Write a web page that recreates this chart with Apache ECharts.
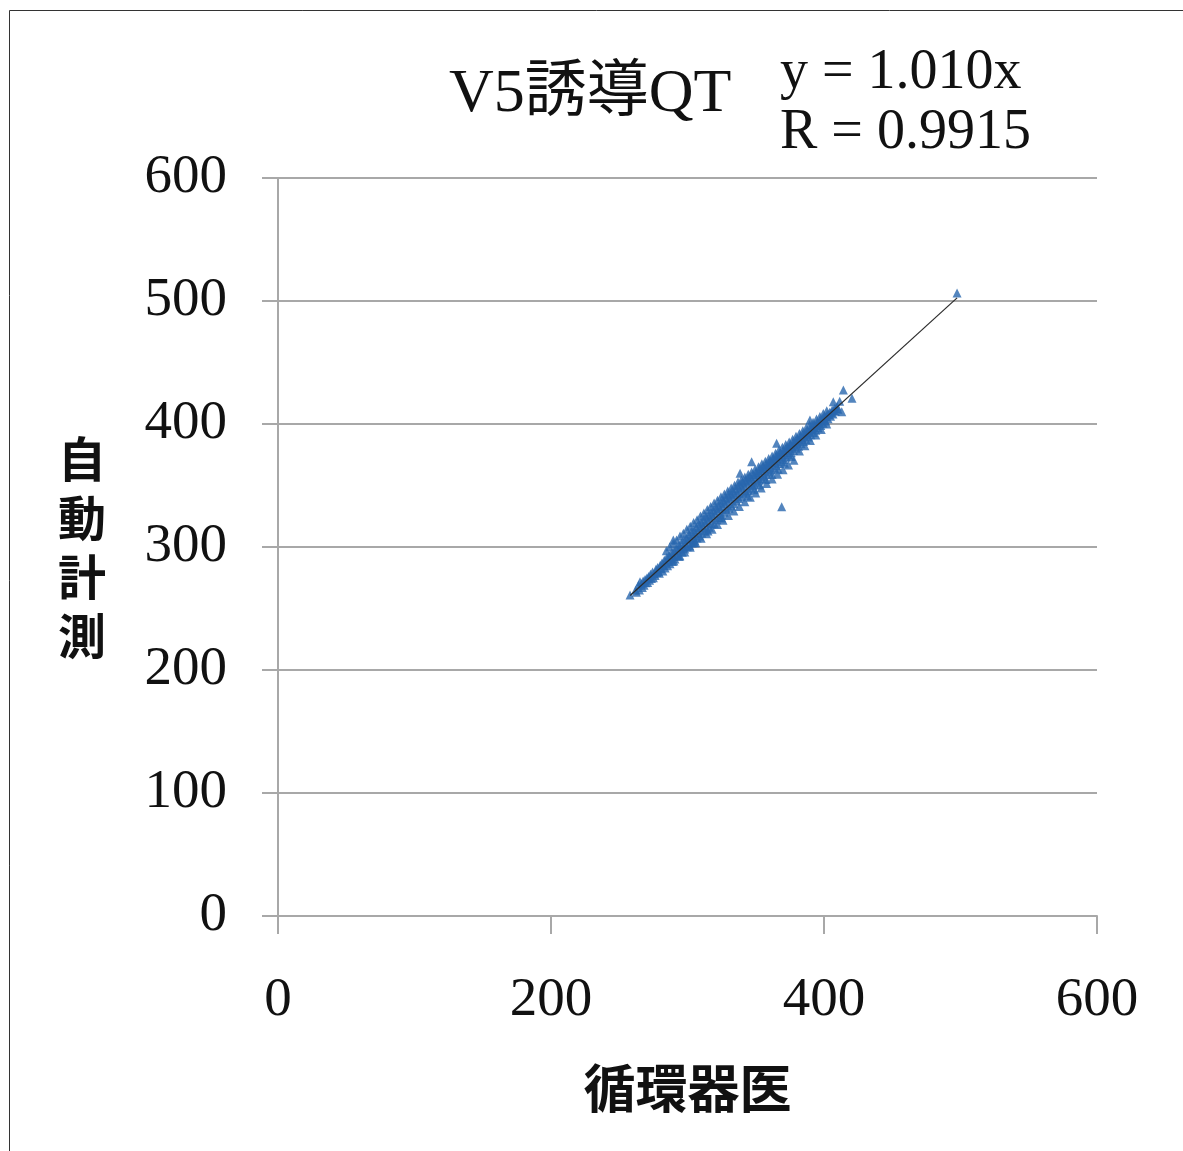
<!DOCTYPE html>
<html>
<head>
<meta charset="utf-8">
<script src="https://cdn.jsdelivr.net/npm/echarts@6/dist/echarts.min.js"></script>
<style>
  html, body { margin: 0; padding: 0; background: #ffffff; }
  #chart { width: 1183px; height: 1151px; }
</style>
</head>
<body>
<div id="chart"></div>
<script>
// QT interval in lead V5: cardiologist reading (x) vs automatic measurement (y), ms
const xTicks = [0, 200, 400, 600];
const yTicks = [0, 100, 200, 300, 400, 500, 600];

const titleText = 'V5誘導QT';
const equationLines = ['y = 1.010x', 'R = 0.9915'];
const xName = '循環器医';
const yName = '自動計測';

// main cluster of paired readings
const bandPoints = [
  [262.0,265.0],[262.6,263.2],[264.1,268.9],[264.8,265.0],[266.3,270.2],[266.9,267.1],[267.5,272.4],
  [268.2,269.0],[268.9,273.5],[269.4,271.0],[270.3,274.8],[270.8,271.2],[271.5,276.0],
  [272.2,273.0],[272.9,277.9],[273.6,274.4],[274.4,279.6],[275.0,275.1],[275.7,278.2],
  [276.3,276.9],[276.9,282.0],[277.6,279.3],[278.1,283.4],[278.7,280.0],[279.4,278.6],[280.0,285.1],[280.6,282.3],
  [281.3,287.0],[281.9,280.4],[282.5,284.9],[283.0,289.2],[283.6,282.9],[284.2,287.6],[284.8,291.4],[285.4,284.8],
  [286.0,289.7],[286.6,293.5],[287.2,286.4],[287.8,291.0],[288.4,295.6],[289.0,288.3],[289.6,292.4],[290.2,297.0],
  [290.8,290.2],[291.4,294.8],[292.0,299.2],[292.6,293.1],[293.2,297.5],[293.8,301.8],[294.4,292.8],[295.0,299.0],
  [295.6,303.5],[296.2,295.7],[296.8,300.4],[297.4,306.0],[298.0,298.3],[298.6,302.7],[299.2,307.3],[299.8,300.2],
  [300.4,305.8],[301.0,310.4],[301.6,301.0],[302.2,307.1],[302.8,312.6],[303.4,303.3],[304.0,309.4],[304.6,314.0],
  [305.0,303.5],[305.2,305.5],[305.8,311.2],[306.4,316.1],[307.0,307.4],[307.6,313.7],[308.2,318.9],[308.8,309.0],[309.4,315.8],
  [310.0,320.4],[310.6,311.2],[311.2,317.3],[311.8,322.6],[312.4,313.0],[313.0,319.8],[313.6,324.9],[314.2,314.6],
  [314.8,321.3],[315.0,313.0],[315.4,326.0],[316.0,316.1],[316.6,323.5],[317.2,328.4],[317.8,318.7],[318.4,325.2],[319.0,330.1],
  [319.6,319.0],[320.2,327.0],[320.8,332.3],[321.4,322.2],[322.0,329.5],[322.6,334.0],[323.2,324.0],[323.8,331.2],
  [324.4,336.4],[325.0,326.1],[325.0,323.6],[325.6,333.0],[326.2,338.2],[326.8,328.2],[327.4,335.4],[328.0,340.1],[328.6,330.5],
  [329.2,337.1],[329.8,342.3],[330.4,331.6],[331.0,339.0],[331.6,343.7],[332.2,333.4],[332.8,340.6],[333.4,345.8],
  [334.0,335.2],[334.6,342.5],[335.2,347.4],[335.8,337.5],[336.4,344.0],[337.0,349.6],[337.6,339.4],[338.2,346.1],
  [338.8,351.0],[339.4,340.7],[340.0,347.9],[340.6,352.8],[341.2,343.3],[341.8,349.5],[342.4,354.2],[343.0,344.6],
  [343.6,351.8],[344.0,341.5],[344.2,356.0],[344.8,346.0],[345.4,353.4],[346.0,357.3],[346.6,347.7],[347.2,355.0],[347.8,350.1],
  [348.4,359.0],[349.0,351.0],[349.0,346.5],[349.6,356.8],[350.2,360.4],[350.8,352.7],[351.4,358.5],[352.0,362.0],[352.6,354.3],
  [353.0,350.4],[353.2,360.2],[353.8,363.8],[354.4,355.6],[355.0,361.9],[355.6,365.4],[356.2,357.6],[356.8,363.6],[357.4,367.0],
  [357.5,354.8],[358.0,359.2],[358.6,365.3],[359.2,368.4],[359.8,361.0],[360.4,366.8],[361.0,370.1],[361.6,362.6],[362.2,368.6],
  [362.0,359.0],[362.8,371.8],[363.4,364.3],[364.0,370.2],[364.6,373.3],[365.2,366.0],[365.8,371.9],[366.4,375.0],[367.0,367.8],
  [366.5,363.2],[367.6,373.6],[368.2,376.6],[368.8,369.5],[369.4,375.3],[370.0,378.2],[370.6,371.2],[371.2,376.9],[371.8,379.8],
  [371.0,368.0],[372.4,373.0],[373.0,378.6],[373.6,381.5],[374.2,374.8],[374.8,380.2],[375.4,383.1],[376.0,376.6],[376.6,381.9],
  [376.0,373.5],[377.2,384.8],[377.8,378.4],[378.4,383.5],[379.0,386.4],[379.6,380.2],[380.2,385.2],[380.8,388.0],[381.4,382.0],
  [382.0,386.9],[382.6,389.7],[383.2,383.9],[383.8,388.6],[384.4,391.4],[385.0,385.7],[385.6,390.3],[386.2,393.0],
  [386.8,387.5],[387.4,392.0],[388.0,394.6],[388.6,389.4],[389.2,393.8],[389.8,396.2],[390.4,391.2],[391.0,395.5],
  [391.6,397.8],[392.2,393.0],[392.8,397.2],[393.4,399.5],[394.0,395.0],[394.6,398.9],[395.2,401.2],[395.8,396.8],
  [396.4,400.6],[397.0,402.8],[397.6,398.7],[398.2,402.3],[398.8,404.5],[399.4,400.6],[400.0,404.0],[400.6,406.2],
  [401.2,402.5],[401.8,405.8],[402.4,407.9],[403.0,404.3],[403.6,407.5],[404.2,409.6],[404.8,406.2],[405.4,409.2],
  [406.0,411.3],[406.6,408.2],[407.2,410.9],[407.8,412.8],[408.4,410.4],[409.0,412.6],[409.6,414.4],[410.2,412.0]
];

// readings along the upper fringe of the cluster
const upperFringe = [
  [284.5,297.0],[287.0,300.2],[289.5,302.8],[292.0,305.6],[294.5,308.9],[297.0,311.2],[299.5,314.4],[302.0,316.8],
  [304.5,320.0],[307.0,322.1],[309.5,325.3],[312.0,327.6],[314.5,330.5],[317.0,332.9],[319.5,335.7],[322.0,338.0],
  [324.5,340.8],[327.0,343.1],[329.5,345.6],[332.0,348.0],[334.5,350.2],[337.0,352.9],[339.5,354.6],[342.0,357.0],
  [344.5,359.1],[347.0,361.0],[349.5,363.2],[352.0,365.3],[354.5,367.6],[357.0,369.8],[359.5,372.0],[362.0,374.0],
  [364.5,376.2],[367.0,378.9],[369.5,381.0],[372.0,383.3],[374.5,385.4],[377.0,387.6],[379.5,390.1],[382.0,392.3],
  [384.5,394.6],[387.0,397.0],[389.5,399.3],[392.0,401.5],[394.5,404.0],[397.0,406.1],[399.5,408.6],[402.0,410.8]
];

// readings along the lower fringe of the cluster
const lowerFringe = [
  [290.0,288.6],[294.0,292.2],[298.0,295.9],[302.0,299.8],[306.0,303.4],[310.0,307.1],[314.0,310.8],[318.0,314.5],
  [322.0,318.2],[326.0,321.8],[330.0,325.6],[334.0,329.2],[338.0,332.9],[342.0,336.7],[346.0,340.4],[350.0,344.0],
  [354.0,347.9],[358.0,351.6],[362.0,355.3],[366.0,359.1],[370.0,362.8],[374.0,366.6],[378.0,370.5],[382.0,378.0],
  [386.0,382.3],[390.0,386.6],[394.0,391.0],[398.0,395.5],[402.0,400.0]
];

// isolated readings away from the main cluster
const outlierPoints = [
  [257.9,261.0],[265.2,271.8],[289.6,305.7],[338.5,359.9],[347.0,369.4],[365.3,384.3],[369.0,332.8],
  [389.7,403.3],[406.8,418.1],[411.5,418.5],[413.0,410.0],[414.2,427.6],[420.5,421.0],[497.5,506.5]
];

// regression line y = 1.010x across the measured range
const trendLine = [[258.0,260.6],[497.5,502.5]];

const gridColor = '#a8a8a8';
const serif = '"Liberation Serif", "Noto Sans CJK JP", serif';

const chart = echarts.init(document.getElementById('chart'), null, { renderer: 'canvas' });

chart.setOption({
  animation: false,
  backgroundColor: '#ffffff',
  grid: { left: 278, top: 178, right: 86, bottom: 235, containLabel: false },
  xAxis: {
    type: 'value',
    min: xTicks[0],
    max: xTicks[xTicks.length - 1],
    interval: xTicks[1] - xTicks[0],
    name: xName,
    nameLocation: 'middle',
    nameGap: 146,
    nameTextStyle: { fontFamily: '"Noto Sans CJK JP", sans-serif', fontWeight: 'bold', fontSize: 52, color: '#111' },
    axisLine: { show: true, lineStyle: { color: gridColor, width: 2 } },
    axisTick: { show: true, inside: false, length: 18, lineStyle: { color: gridColor, width: 2 } },
    axisLabel: { margin: 57, fontFamily: serif, fontSize: 55, color: '#111' },
    splitLine: { show: false }
  },
  yAxis: {
    type: 'value',
    min: yTicks[0],
    max: yTicks[yTicks.length - 1],
    interval: yTicks[1] - yTicks[0],
    name: yName.split('').join('\n'),
    nameLocation: 'middle',
    nameRotate: 0,
    nameGap: 172,
    nameTextStyle: { fontFamily: '"Noto Sans CJK JP", sans-serif', fontWeight: 'bold', fontSize: 48, lineHeight: 59, color: '#111' },
    axisLine: { show: true, lineStyle: { color: gridColor, width: 2 } },
    axisTick: { show: true, inside: false, length: 16, lineStyle: { color: gridColor, width: 2 } },
    axisLabel: { margin: 51, fontFamily: serif, fontSize: 55, color: '#111' },
    splitLine: { show: true, lineStyle: { color: gridColor, width: 2 } }
  },
  graphic: [
    {
      type: 'polyline',
      shape: { points: [[9.5, 1151], [9.5, 10.5], [1183, 10.5]] },
      style: { stroke: '#333333', lineWidth: 1, fill: null },
      silent: true
    },
    {
      type: 'text',
      left: 449,
      top: 64,
      style: { text: titleText, font: '62px ' + serif, fill: '#111' },
      silent: true
    },
    {
      type: 'text',
      left: 780,
      top: 43,
      style: { text: equationLines.join('\n'), font: '56px ' + serif, lineHeight: 60, fill: '#111' },
      silent: true
    }
  ],
  series: [
    {
      type: 'scatter',
      data: bandPoints.concat(upperFringe, lowerFringe, outlierPoints),
      symbol: 'triangle',
      symbolSize: 9,
      itemStyle: { color: '#2866ae' },
      z: 2
    },
    {
      type: 'line',
      data: trendLine,
      showSymbol: false,
      symbol: 'none',
      lineStyle: { color: '#2a2a2a', width: 1.2 },
      z: 3
    }
  ]
});
</script>
</body>
</html>
